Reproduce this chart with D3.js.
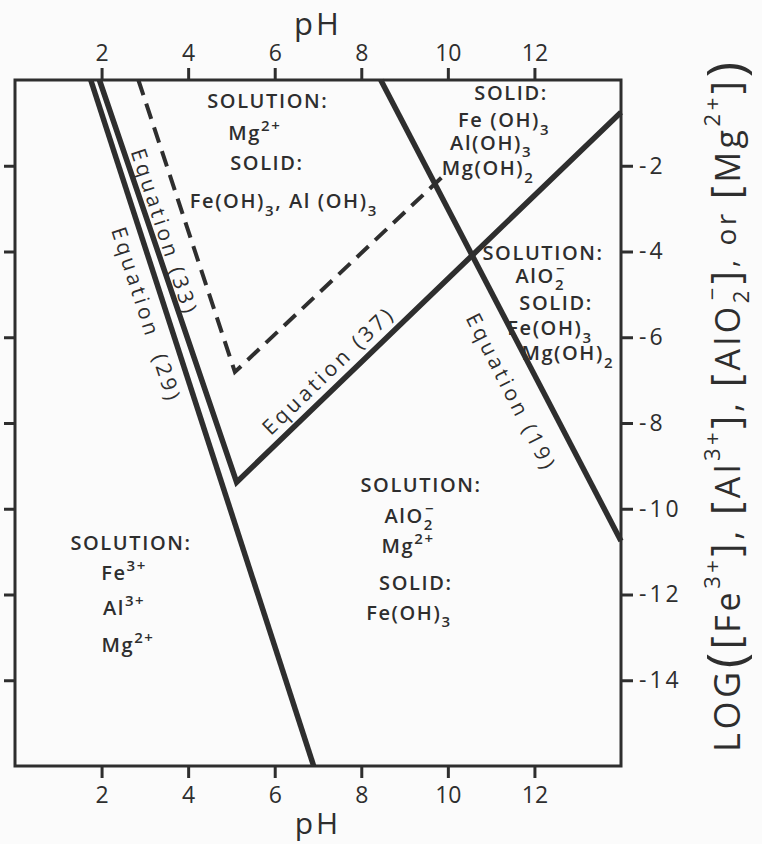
<!DOCTYPE html>
<html>
<head>
<meta charset="utf-8">
<script src="https://cdnjs.cloudflare.com/ajax/libs/d3/7.8.5/d3.min.js"></script>
<style>
  body { margin: 0; background: #fbfbfb; }
  svg { display: block; }
  text { font-family: "Open Sans", "DejaVu Sans", sans-serif; fill: #2e2e2e; }
</style>
</head>
<body>
<script>
var width = 762,
    height = 844,
    ink = "#2e2e2e";

// axes
var pHDomain = [0, 14],
    logDomain = [0, -16],
    pHTicks = [2, 4, 6, 8, 10, 12],
    logTicks = [-2, -4, -6, -8, -10, -12, -14];

// boundary lines, [pH, log concentration]
var eq29 = [[1.75, 0], [6.9, -16]],
    eq33 = [[1.95, 0], [5.12, -9.38]],
    eq37 = [[5.12, -9.38], [14, -0.75]],
    eq19 = [[8.45, 0], [14, -10.75]],
    dashed = [[2.85, 0], [5.08, -6.81], [9.86, -2.27]];

// field labels: [pH, log, text]
var fieldLabels = [
  [5.84, -0.65, "SOLUTION:"],
  [5.54, -1.40, "Mg^{2+}"],
  [5.82, -2.10, "SOLID:"],
  [6.21, -2.99, "Fe(OH)_{3}, Al (OH)_{3}"],

  [11.46, -0.47, "SOLID:"],
  [11.30, -1.10, "Fe (OH)_{3}"],
  [11.00, -1.63, "Al(OH)_{3}"],
  [10.93, -2.22, "Mg(OH)_{2}"],

  [12.20, -4.20, "SOLUTION:"],
  [12.15, -4.73, "AlO_{2}^{−}"],
  [12.50, -5.36, "SOLID:"],
  [12.36, -5.95, "Fe(OH)_{3}"],
  [12.77, -6.53, "Mg(OH)_{2}"],

  [9.38, -9.61, "SOLUTION:"],
  [9.12, -10.33, "AlO_{2}^{−}"],
  [9.08, -11.03, "Mg^{2+}"],
  [9.26, -11.90, "SOLID:"],
  [9.10, -12.59, "Fe(OH)_{3}"],

  [2.68, -10.96, "SOLUTION:"],
  [2.52, -11.66, "Fe^{3+}"],
  [2.52, -12.48, "Al^{3+}"],
  [2.61, -13.34, "Mg^{2+}"]
];

// equation labels: [pH, log, angle, text]
var eqLabels = [
  [3.05, -5.48, 72, "Equation  (29)"],
  [3.47, -3.55, 72, "Equation (33)"],
  [7.23, -6.76, -44, "Equation (37)"],
  [11.48, -7.28, 63, "Equation (19)"]
];

var x = d3.scaleLinear().domain(pHDomain).range([15, 621]),
    y = d3.scaleLinear().domain(logDomain).range([80, 766]);

var svg = d3.select("body").append("svg")
    .attr("width", width)
    .attr("height", height);

// axes
function styleAxis(g) {
  g.select(".domain").remove();
  g.selectAll(".tick line").attr("stroke", ink).attr("stroke-width", 3);
  g.selectAll(".tick text").attr("fill", ink).style("font-size", "23px");
}

svg.append("g")
    .attr("transform", "translate(0," + y(0) + ")")
    .call(d3.axisTop(x).tickValues(pHTicks).tickSize(12).tickPadding(7))
    .call(styleAxis);

svg.append("g")
    .attr("transform", "translate(0," + y(-16) + ")")
    .call(d3.axisBottom(x).tickValues(pHTicks).tickSize(12).tickPadding(9))
    .call(styleAxis);

svg.append("g")
    .attr("transform", "translate(" + x(14) + ",0)")
    .call(d3.axisRight(y).tickValues(logTicks).tickSize(12).tickPadding(6)
      .tickFormat(function(d) { return "-" + Math.abs(d); }))
    .call(styleAxis)
    .selectAll(".tick text").style("letter-spacing", "3px");

svg.append("g")
    .attr("transform", "translate(" + x(0) + ",0)")
    .call(d3.axisLeft(y).tickValues(logTicks).tickSize(11).tickFormat(""))
    .call(styleAxis);

// frame
svg.append("rect")
    .attr("x", x(0))
    .attr("y", y(0))
    .attr("width", x(14) - x(0))
    .attr("height", y(-16) - y(0))
    .attr("fill", "none")
    .attr("stroke", ink)
    .attr("stroke-width", 3);

// axis titles
svg.append("text")
    .attr("x", x(7))
    .attr("y", 35)
    .attr("text-anchor", "middle")
    .style("font-size", "31px")
    .style("letter-spacing", "3px")
    .text("pH");

svg.append("text")
    .attr("x", x(7))
    .attr("y", 834)
    .attr("text-anchor", "middle")
    .style("font-size", "30px")
    .style("letter-spacing", "3px")
    .text("pH");

// boundaries
var line = d3.line()
    .x(function(d) { return x(d[0]); })
    .y(function(d) { return y(d[1]); });

var plot = svg.append("g");

[eq29, eq33.concat(eq37.slice(1)), eq19].forEach(function(pts) {
  plot.append("path")
      .attr("d", line(pts))
      .attr("fill", "none")
      .attr("stroke", ink)
      .attr("stroke-width", 5.5)
      .attr("stroke-linejoin", "miter");
});

plot.append("path")
    .attr("d", line(dashed))
    .attr("fill", "none")
    .attr("stroke", ink)
    .attr("stroke-width", 4)
    .attr("stroke-dasharray", "16,9");

// rich text: ^{..} superscript, _{..} subscript
function rich(sel, str, base) {
  var parts = str.split(/(\^\{[^}]*\}|_\{[^}]*\})/).filter(function(p) { return p !== ""; });
  var shift = 0, prev = null;
  parts.forEach(function(p) {
    var t = sel.append("tspan"), target = 0, s = base;
    if (p[0] === "^") { target = -0.45 * base; s = base * 0.75; p = p.slice(2, -1); }
    else if (p[0] === "_") { target = 0.38 * base; s = base * 0.75; p = p.slice(2, -1); }
    t.attr("dy", target - shift).style("font-size", s + "px").text(p);
    if (prev === "_" && target < 0) t.attr("dx", -0.6 * s);
    prev = target > 0 ? "_" : target < 0 ? "^" : null;
    shift = target;
  });
}

fieldLabels.forEach(function(d) {
  var t = svg.append("text")
      .attr("x", x(d[0]))
      .attr("y", y(d[1]))
      .attr("text-anchor", "middle")
      .style("font-weight", 600)
      .style("letter-spacing", "1.6px");
  rich(t, d[2], 20);
});

eqLabels.forEach(function(d) {
  svg.append("text")
      .attr("transform", "translate(" + x(d[0]) + "," + y(d[1]) + ") rotate(" + d[2] + ")")
      .attr("text-anchor", "middle")
      .attr("dominant-baseline", "central")
      .style("font-size", "21px")
      .style("letter-spacing", "3.5px")
      .style("white-space", "pre")
      .text(d[3]);
});

// right title
var title = svg.append("text")
    .attr("transform", "translate(740,407) rotate(-90)")
    .attr("text-anchor", "middle")
    .attr("textLength", 690)
    .attr("lengthAdjust", "spacing")
    .style("white-space", "pre");

var titleParts = [
  ["LOG", 36, 0], ["(", 52, 4], ["[", 40, 0], ["Fe", 34, 0], ["3+", 22, -20], ["]", 40, 0], [", ", 34, 0],
  ["[", 40, 0], ["Al", 34, 0], ["3+", 22, -20], ["]", 40, 0], [", ", 34, 0],
  ["[", 40, 0], ["AlO", 34, 0], ["2", 22, 9], ["−", 22, -20], ["]", 40, 0], [", or ", 28, -4],
  ["[", 40, 0], ["Mg", 34, 0], ["2+", 22, -20], ["]", 40, 0], [")", 52, 4]
];
var cur = 0;
titleParts.forEach(function(p) {
  var t = title.append("tspan")
      .attr("dy", p[2] - cur)
      .style("font-size", p[1] + "px")
      .text(p[0]);
  if (p[0] === "−") t.attr("dx", -13);
  cur = p[2];
});
</script>
</body>
</html>
